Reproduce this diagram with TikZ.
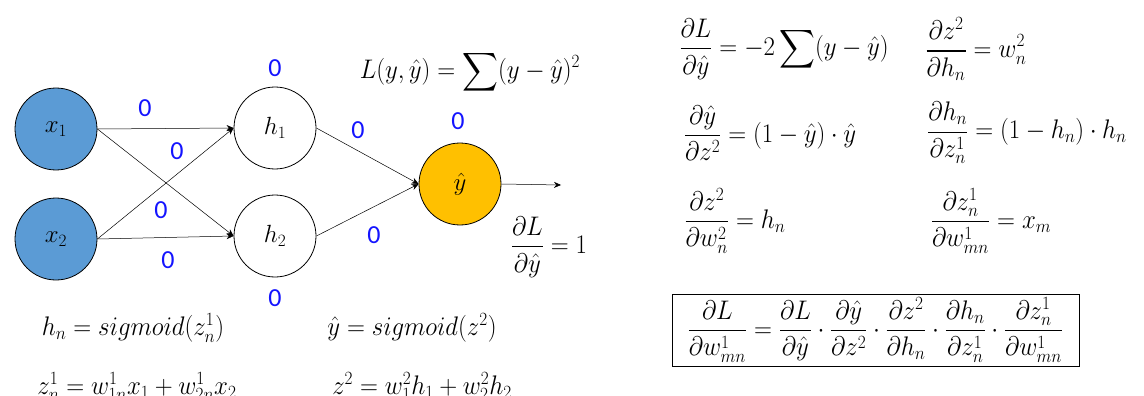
\documentclass[tikz,border=0pt]{standalone}
\usepackage{fontspec}
\usepackage{amsmath}
\usepackage{graphicx}
\newfontfamily\carl{Carlito}
\usetikzlibrary{arrows.meta}
\definecolor{inblue}{RGB}{91,155,213}
\definecolor{outgold}{RGB}{255,192,0}
\definecolor{wblue}{RGB}{20,20,255}
\newcommand{\tallereq}[1]{\scalebox{1}[1.08]{#1}}
\begin{document}
\begin{tikzpicture}[x=1pt,y=-1pt,
  neuron/.style={circle,draw=black,line width=0.8pt,minimum size=82pt,inner sep=0pt,font=\fontsize{24}{28}\selectfont},
  edge/.style={-{Stealth[length=7pt,width=6pt]},line width=0.5pt,black},
  wlab/.style={text=wblue,font=\carl\fontsize{26}{30}\selectfont,inner sep=0pt},
  eq/.style={inner sep=0pt,font=\fontsize{25}{30}\selectfont},
  boxeq/.style={draw=black,line width=0.8pt,inner sep=0pt,minimum width=407pt,minimum height=72pt,font=\fontsize{25}{30}\selectfont}]
\useasboundingbox (0,0) rectangle (1144,396);
\clip (0,0) rectangle (1144,396);
% neurons
\node[neuron,fill=inblue] (x1) at (56,129) {$x_1$};
\node[neuron,fill=inblue] (x2) at (56,239) {$x_2$};
\node[neuron,fill=white] (h1) at (275,128) {$h_1$};
\node[neuron,fill=white] (h2) at (275,236) {$h_2$};
\node[neuron,fill=outgold] (yh) at (460,184) {$\hat{y}$};
\coordinate (out) at (561,185);
% edges
\draw[edge] (x1.east) -- (h1.west);
\draw[edge] (x1.east) -- (h2.west);
\draw[edge] (x2.east) -- (h1.west);
\draw[edge] (x2.east) -- (h2.west);
\draw[edge] (h1.east) -- (yh.west);
\draw[edge] (h2.east) -- (yh.west);
\draw[edge] (yh.east) -- (out);
% weight / bias labels
\node[wlab] (b1) at (275,68) {0};
\node[wlab] (w11) at (145,108) {0};
\node[wlab] (w12) at (177,151) {0};
\node[wlab] (w21) at (161,210) {0};
\node[wlab] (w22) at (168,260) {0};
\node[wlab] (v1) at (358,130) {0};
\node[wlab] (v2) at (374,235) {0};
\node[wlab] (bo) at (458,121) {0};
\node[wlab] (b2) at (275,298) {0};
% loss
\node[eq] (loss) at (470,72) {\tallereq{$\displaystyle L(y,\hat{y}) = \sum (y-\hat{y})^2$}};
\node[eq] (dl1) at (549,247) {\tallereq{$\displaystyle \frac{\partial L}{\partial \hat{y}} = 1$}};
% bottom formulas
\node[eq] (hn) at (133,328) {\tallereq{$h_n = sigmoid(z_n^1)$}};
\node[eq] (ys) at (412,328) {\tallereq{$\hat{y} = sigmoid(z^2)$}};
\node[eq,anchor=base] (zn) at (137,394) {\tallereq{$z_n^1 = w_{1n}^1 x_1 + w_{2n}^1 x_2$}};
\node[eq,anchor=base] (z2) at (422,394) {\tallereq{$z^2 = w_1^2 h_1 + w_2^2 h_2$}};
% right formulas
\node[eq] (r1) at (784,49) {\tallereq{$\displaystyle \frac{\partial L}{\partial \hat{y}} = -2\sum (y-\hat{y})$}};
\node[eq] (r2) at (976,49) {\tallereq{$\displaystyle \frac{\partial z^2}{\partial h_n} = w_n^2$}};
\node[eq] (r3) at (770,133) {\tallereq{$\displaystyle \frac{\partial \hat{y}}{\partial z^2} = (1-\hat{y})\cdot\hat{y}$}};
\node[eq] (r4) at (1027,133) {\tallereq{$\displaystyle \frac{\partial h_n}{\partial z_n^1} = (1-h_n)\cdot h_n$}};
\node[eq] (r5) at (735,221) {\tallereq{$\displaystyle \frac{\partial z^2}{\partial w_n^2} = h_n$}};
\node[eq] (r6) at (991,221) {\tallereq{$\displaystyle \frac{\partial z_n^1}{\partial w_{mn}^1} = x_m$}};
% boxed chain rule
\node[boxeq] (chain) at (875.5,330) {\tallereq{$\displaystyle \frac{\partial L}{\partial w_{mn}^1} = \frac{\partial L}{\partial \hat{y}}\cdot\frac{\partial \hat{y}}{\partial z^2}\cdot\frac{\partial z^2}{\partial h_n}\cdot\frac{\partial h_n}{\partial z_n^1}\cdot\frac{\partial z_n^1}{\partial w_{mn}^1}$}};
\end{tikzpicture}
\end{document}
